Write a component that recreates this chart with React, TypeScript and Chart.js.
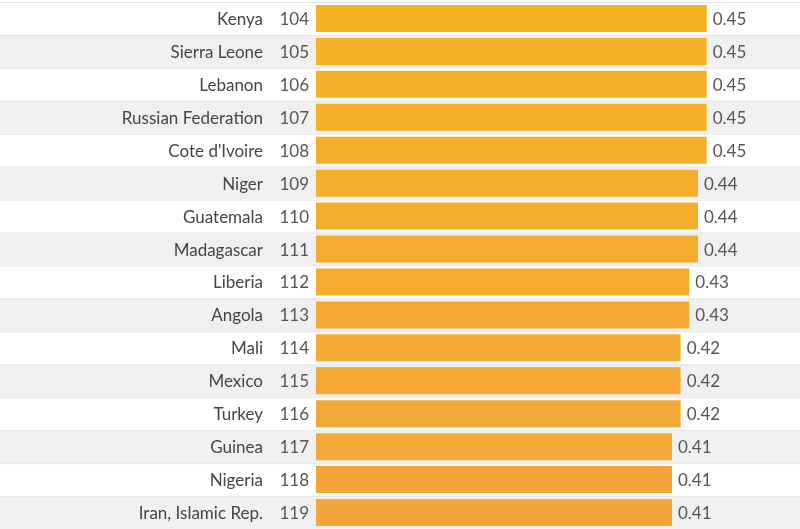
import React, { useEffect, useRef } from "react";
import { Chart, registerables } from "chart.js";
Chart.register(...registerables);

const countries = ["Kenya","Sierra Leone","Lebanon","Russian Federation","Cote d'Ivoire","Niger","Guatemala","Madagascar","Liberia","Angola","Mali","Mexico","Turkey","Guinea","Nigeria","Iran, Islamic Rep."];
const ranks = [104,105,106,107,108,109,110,111,112,113,114,115,116,117,118,119];
const values = [0.45,0.45,0.45,0.45,0.45,0.44,0.44,0.44,0.43,0.43,0.42,0.42,0.42,0.41,0.41,0.41];
const labels = ["0.45","0.45","0.45","0.45","0.45","0.44","0.44","0.44","0.43","0.43","0.42","0.42","0.42","0.41","0.41","0.41"];

function colorFor(i: number) {
  const t = i / (values.length - 1);
  const a = [244, 178, 35], b = [242, 165, 60];
  const c = a.map((v, k) => Math.round(v + (b[k] - v) * t));
  return `rgb(${c[0]},${c[1]},${c[2]})`;
}

export default function App() {
  const ref = useRef<HTMLCanvasElement>(null);
  useEffect(() => {
    const font = "17px Lato";
    const deco = {
      id: "deco",
      beforeDatasetsDraw(chart: any) {
        const { ctx, scales: { y }, width } = chart;
        ctx.save();
        const step = y.getPixelForValue(1) - y.getPixelForValue(0);
        countries.forEach((_, i) => {
          const cy = y.getPixelForValue(i);
          ctx.fillStyle = i % 2 === 1 ? "#f0f0f0" : "#ffffff";
          ctx.fillRect(0, cy - step / 2, width, step);
          ctx.fillStyle = "#e6e6e6";
          ctx.fillRect(0, cy - step / 2, width, 1);
        });
        ctx.restore();
      },
      afterDatasetsDraw(chart: any) {
        const { ctx, scales: { x, y } } = chart;
        ctx.save();
        ctx.font = font;
        ctx.textBaseline = "middle";
        countries.forEach((n, i) => {
          const cy = y.getPixelForValue(i) + 1;
          ctx.fillStyle = "#444";
          ctx.textAlign = "right";
          ctx.fillText(n, 263, cy);
          ctx.fillStyle = "#555";
          ctx.fillText(String(ranks[i]), 309, cy);
          ctx.textAlign = "left";
          ctx.fillText(labels[i], x.getPixelForValue(values[i]) + 6, cy);
        });
        ctx.restore();
      },
    };
    const chart = new Chart(ref.current!, {
      type: "bar",
      data: {
        labels: countries,
        datasets: [{
          data: values,
          backgroundColor: values.map((_, i) => colorFor(i)),
          borderWidth: 0,
          barPercentage: 0.82,
          categoryPercentage: 1,
        }],
      },
      options: {
        indexAxis: "y",
        animation: false,
        responsive: false,
        layout: { padding: { top: 2, left: 316, right: 0, bottom: 0 } },
        plugins: { legend: { display: false }, tooltip: { enabled: false } },
        scales: {
          x: { display: false, min: 0, max: 0.5575 },
          y: { display: false },
        },
      },
      plugins: [deco],
    });
    return () => chart.destroy();
  }, []);
  return (
    <div style={{ position: "fixed", left: 0, top: 0, width: 800, height: 529, background: "#fff" }}>
      <canvas ref={ref} width={800} height={529} style={{ width: 800, height: 529 }} />
    </div>
  );
}
